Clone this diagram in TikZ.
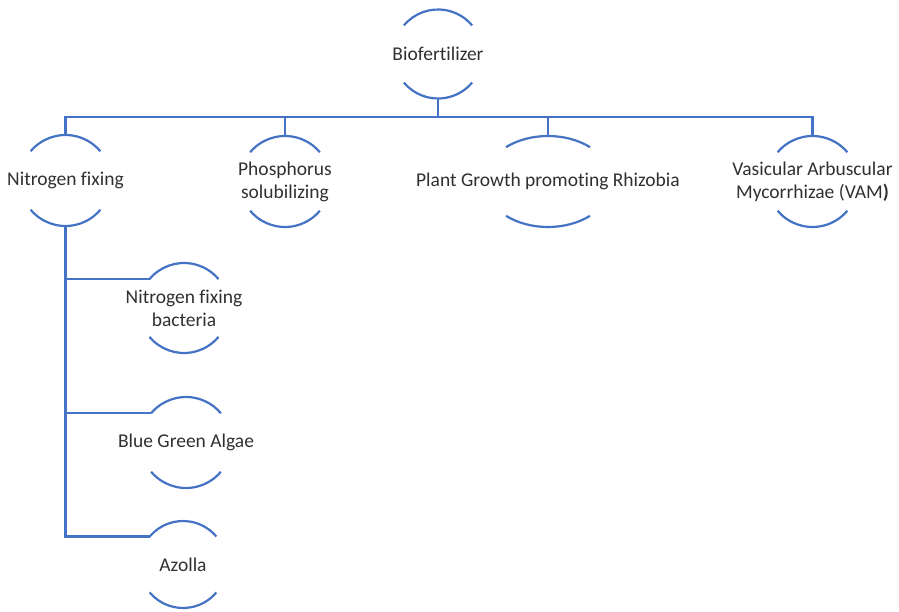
\documentclass[tikz,border=0pt]{standalone}
\usepackage{fontspec}
\setmainfont{Carlito}[Ligatures=NoCommon]
\definecolor{linkblue}{HTML}{4472C4}
\definecolor{textgray}{HTML}{303030}
\tikzset{
  lbl/.style={font=\fontsize{19.5}{23}\selectfont, text=textgray, align=center, inner sep=0pt},
  link/.style={draw=linkblue, line width=2.2pt},
}
% name, x, y, x radius, y radius, arc half-angle, text
\newcommand\bubnode[7]{%
  \node[lbl] (#1) at (#2,#3) {#7};
  \coordinate (#1-top) at ([yshift=#5pt]#1.center);
  \coordinate (#1-bot) at ([yshift=-#5pt]#1.center);
  \coordinate (#1-left) at ([shift={(180-#6:#4pt and #5pt)}]#1.center);
  \draw[link] (#1-left) arc[start angle=180-#6, end angle=#6, x radius=#4pt, y radius=#5pt];
  \draw[link] ([shift={(180+#6:#4pt and #5pt)}]#1.center) arc[start angle=180+#6, end angle=360-#6, x radius=#4pt, y radius=#5pt];
}
\begin{document}
\begin{tikzpicture}[x=1pt,y=1pt]
\useasboundingbox (0,0) rectangle (899,-612);
\bubnode{bio}{438}{-54}{44.5}{44.5}{40}{Biofertilizer}
\bubnode{nf}{65.5}{-180.5}{45.5}{45.5}{40}{Nitrogen fixing}
\bubnode{ps}{285}{-181.5}{45.5}{45.5}{40}{Phosphorus\\solubilizing}
\bubnode{pg}{548}{-181.5}{64}{45.5}{49}{Plant Growth promoting Rhizobia}
\bubnode{vam}{812.5}{-181.5}{45.5}{45.5}{40}{Vasicular Arbuscular\\Mycorrhizae (VAM\textbf{)}}
\bubnode{nfb}{184}{-308}{45}{45}{40}{Nitrogen fixing\\bacteria}
\bubnode{bga}{186}{-442.5}{45.5}{45.5}{40}{Blue Green Algae}
\bubnode{az}{183}{-564.5}{43.5}{43.5}{40}{Azolla}
\coordinate (bus) at (438,-117);
\draw[link] (bio-bot) -- (bus);
\draw[link] (bus) -| (nf-top);
\draw[link] (bus) -| (ps-top);
\draw[link] (bus) -| (pg-top);
\draw[link] (bus) -| (vam-top);
\draw[link] (nf-bot) |- (nfb-left);
\draw[link] (nf-bot) |- (bga-left);
\draw[link] (nf-bot) |- (az-left);
\end{tikzpicture}
\end{document}
